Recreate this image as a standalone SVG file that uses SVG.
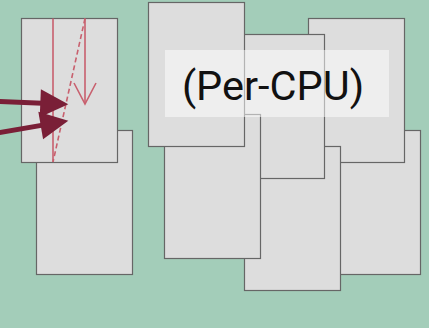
<svg xmlns="http://www.w3.org/2000/svg" width="429" height="328" viewBox="0 0 429 328">
<style>
.pg{fill:#dddddd;stroke:#666666;stroke-width:1.2}
.thin{stroke:#c8606e;stroke-width:1.6;fill:none}
.thick{stroke:#7a1f37;stroke-width:5;fill:none;marker-end:url(#big)}
.lbl{font-family:Roboto,"Liberation Sans",sans-serif;font-size:41.5px;fill:#111111}
</style>
<defs>
<marker id="big" markerUnits="userSpaceOnUse" markerWidth="28" markerHeight="28" refX="8" refY="14" orient="auto" overflow="visible">
<path d="M0,0 L28,14 L0,28 z" fill="#7a1f37"/>
</marker>
</defs>
<rect width="429" height="328" fill="#a3cdb9"/>
<g id="page-b"><rect class="pg" x="36.5" y="130.5" width="96" height="144"/></g>
<g id="page-a"><rect class="pg" x="21.5" y="18.5" width="96" height="144"/></g>
<g id="page-h"><rect class="pg" x="324.5" y="130.5" width="96" height="144"/></g>
<g id="page-g"><rect class="pg" x="308.5" y="18.5" width="96" height="144"/></g>
<g id="page-f"><rect class="pg" x="244.5" y="146.5" width="96" height="144"/></g>
<g id="page-e"><rect class="pg" x="228.5" y="34.5" width="96" height="144"/></g>
<g id="page-d"><rect class="pg" x="164.5" y="114.5" width="96" height="144"/></g>
<g id="page-c"><rect class="pg" x="148.5" y="2.5" width="96" height="144"/></g>
<g id="label">
<rect x="165" y="50" width="224" height="67" fill="#ffffff" fill-opacity="0.5"/>
<text class="lbl" x="273" y="100" text-anchor="middle">(Per-CPU)</text>
</g>
<g id="connectors">
<line class="thin" x1="53" y1="18.5" x2="53" y2="162"/>
<line class="thin" x1="85" y1="18.5" x2="85" y2="104"/>
<polyline class="thin" points="74,83 85,104 96,83"/>
<line class="thin" x1="85" y1="18.5" x2="53" y2="162" stroke-dasharray="5,3"/>
<line class="thick" x1="-2" y1="101.4" x2="48.3" y2="103.5"/>
<line class="thick" x1="-2" y1="132.8" x2="48.6" y2="124.1"/>
</g>
</svg>
